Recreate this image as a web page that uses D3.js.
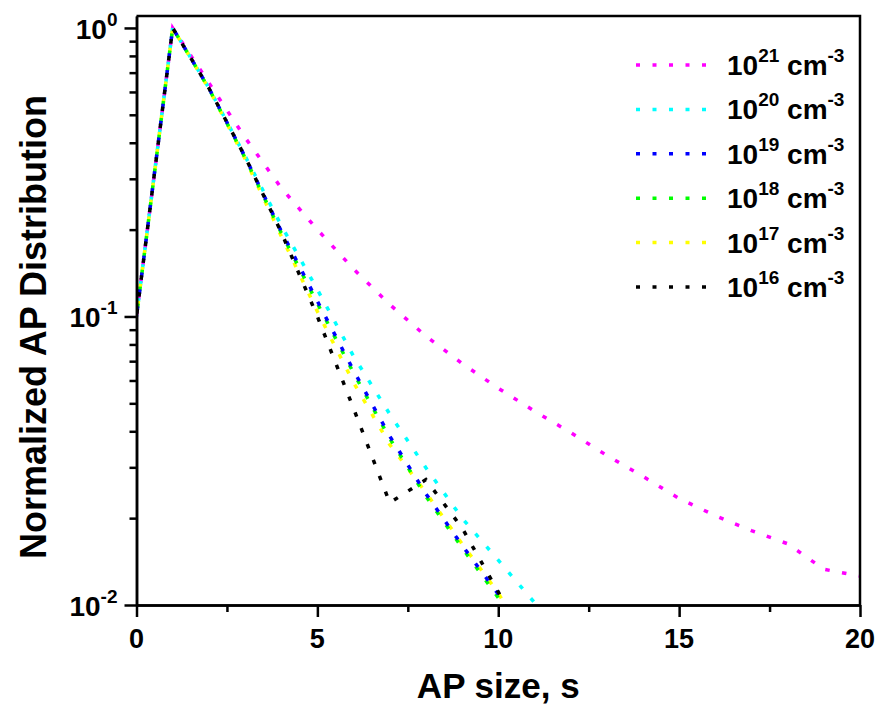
<!doctype html>
<meta charset="utf-8">
<style>
body { margin: 0; background: #fff; }
svg { font-family: Arial, "Liberation Sans", sans-serif; font-weight: bold; }
.axis path, .axis line { stroke: #000; stroke-width: 2.5; }
.axis text { display: none; }
</style>
<body>
<svg id="chart" width="880" height="716"></svg>
<script src="https://d3js.org/d3.v7.min.js"></script>
<script>
  // AP size, s
  let sizes21 = [0,1,2,3,4,5,6,7,8,9,10,11,12,13,14,15,16,17,18,19,20];
  let sizes = [0,1,2,3,4,5,6,7,8,9,10,11];

  // normalized AP distribution for each concentration
  let vals21 = [0.1,1.0,0.645,0.417,0.279,0.200,0.146,0.110,0.0855,0.0687,0.0564,0.047,0.0396,0.033,0.0279,0.0234,0.0204,0.0181,0.0163,0.0133,0.0126];
  let vals20 = [0.1,1.0,0.62,0.36,0.207,0.124,0.0728,0.0459,0.0299,0.0200,0.0143,0.0102];
  let vals19 = [0.1,1.0,0.619,0.358,0.198,0.113,0.065,0.0385,0.0243,0.0161,0.0109,0.0066];
  let vals18 = [0.1,1.0,0.617,0.355,0.195,0.111,0.0637,0.0378,0.0238,0.0158,0.0106,0.0064];
  let vals17 = [0.1,1.0,0.615,0.352,0.19,0.104,0.059,0.036,0.0245,0.0163,0.011,0.0067];
  let vals16 = [0.1,1.0,0.619,0.358,0.196,0.100,0.048,0.0226,0.0272,0.0185,0.0111,0.0066];

  let exponents = ["21","20","19","18","17","16"];
  let colours = ["#ff00ff","#00ffff","#0000ff","#00ff00","#ffff00","#000000"];

  let xTicks = [0,5,10,15,20];
  let xMinor = [2.5,7.5,12.5,17.5];
  let yTicks = [1, 0.1, 0.01];
  let yTickLabels = [["10","0"],["10","-1"],["10","-2"]];

  let series = [
    {exp: exponents[0], x: sizes21, y: vals21},
    {exp: exponents[1], x: sizes, y: vals20},
    {exp: exponents[2], x: sizes, y: vals19},
    {exp: exponents[3], x: sizes, y: vals18},
    {exp: exponents[4], x: sizes, y: vals17},
    {exp: exponents[5], x: sizes, y: vals16}
  ];

  let margin = {top: 16, right: 20, bottom: 111, left: 136.5};
  let W = 880, H = 716;

  let x = d3.scaleLinear().domain([0, 20]).range([margin.left, W - margin.right]);
  let y = d3.scaleLog().domain([0.01, 1.1]).range([H - margin.bottom, margin.top]);

  let svg = d3.select("#chart");

  svg.append("clipPath").attr("id", "clip")
    .append("rect")
    .attr("x", margin.left).attr("y", margin.top)
    .attr("width", W - margin.right - margin.left)
    .attr("height", H - margin.bottom - margin.top);

  //
  // curves
  //
  let line = d3.line()
    .x(d => x(d[0]))
    .y(d => y(d[1]));

  let drawOrder = [0, 1, 4, 3, 2, 5];
  drawOrder.forEach((k, j) => {
    let s = series[k];
    svg.append("path")
      .datum(s.x.map((v, i) => [v, s.y[i]]))
      .attr("clip-path", "url(#clip)")
      .attr("fill", "none")
      .attr("stroke", colours[k])
      .attr("stroke-width", 3.5)
      .attr("stroke-dasharray", "4.5 12.5")
      .attr("stroke-dashoffset", j * 2.8)
      .attr("d", line);
  });

  //
  // axes
  //
  let y0 = H - margin.bottom;
  svg.append("g").attr("class", "axis")
    .attr("transform", "translate(0," + y0 + ")")
    .call(d3.axisBottom(x).tickValues(xTicks).tickSize(12).tickSizeOuter(0));
  svg.append("g").attr("class", "axis")
    .attr("transform", "translate(0," + y0 + ")")
    .call(d3.axisBottom(x).tickValues(xMinor).tickSize(7).tickSizeOuter(0));

  let yMinor = [];
  [0.01, 0.1].forEach(b => [2,3,4,5,6,7,8,9].forEach(m => yMinor.push(b * m)));

  svg.append("g").attr("class", "axis")
    .attr("transform", "translate(" + margin.left + ",0)")
    .call(d3.axisLeft(y).tickValues(yTicks).tickSize(12).tickSizeOuter(0));
  svg.append("g").attr("class", "axis")
    .attr("transform", "translate(" + margin.left + ",0)")
    .call(d3.axisLeft(y).tickValues(yMinor).tickSize(7).tickSizeOuter(0));

  // top and right frame
  svg.append("path")
    .attr("d", "M" + margin.left + "," + margin.top + "H" + (W - margin.right) + "V" + y0)
    .attr("fill", "none").attr("stroke", "#000").attr("stroke-width", 2.5);

  // tick labels
  svg.selectAll(".xlab")
    .data(xTicks)
    .enter()
    .append("text")
    .attr("class", "xlab")
    .attr("x", d => x(d))
    .attr("y", y0 + 43)
    .attr("text-anchor", "middle")
    .attr("font-size", 27)
    .text(d => d);

  let ylab = svg.selectAll(".ylab")
    .data(yTicks)
    .enter()
    .append("text")
    .attr("class", "ylab")
    .attr("x", margin.left - 19)
    .attr("y", d => y(d) + 11)
    .attr("text-anchor", "end")
    .attr("font-size", 28);
  ylab.append("tspan").text((d, i) => yTickLabels[i][0]);
  ylab.append("tspan").attr("dy", -13).attr("font-size", 19).text((d, i) => yTickLabels[i][1]);

  // axis titles
  svg.append("text")
    .attr("x", (x(0) + x(20)) / 2)
    .attr("y", 698)
    .attr("text-anchor", "middle")
    .attr("font-size", 35)
    .text("AP size, s");

  svg.append("text")
    .attr("transform", "translate(46,327) rotate(-90)")
    .attr("text-anchor", "middle")
    .attr("font-size", 36)
    .text("Normalized AP Distribution");

  //
  // legend
  //
  let legend = svg.selectAll(".leg")
    .data(series)
    .enter()
    .append("g")
    .attr("class", "leg")
    .attr("transform", (d, i) => "translate(636," + (65 + i * 44.4) + ")");

  legend.append("line")
    .attr("x1", 0).attr("x2", 70)
    .attr("stroke", (d, i) => colours[i])
    .attr("stroke-width", 3.5)
    .attr("stroke-dasharray", "4 12.5");

  let lt = legend.append("text")
    .attr("x", 91)
    .attr("y", 10)
    .attr("font-size", 28);
  lt.append("tspan").text("10");
  lt.append("tspan").attr("dy", -13).attr("font-size", 19).text(d => d.exp);
  lt.append("tspan").attr("dy", 13).text(" cm");
  lt.append("tspan").attr("dy", -13).attr("font-size", 19).text("-3");
</script>
</body>
